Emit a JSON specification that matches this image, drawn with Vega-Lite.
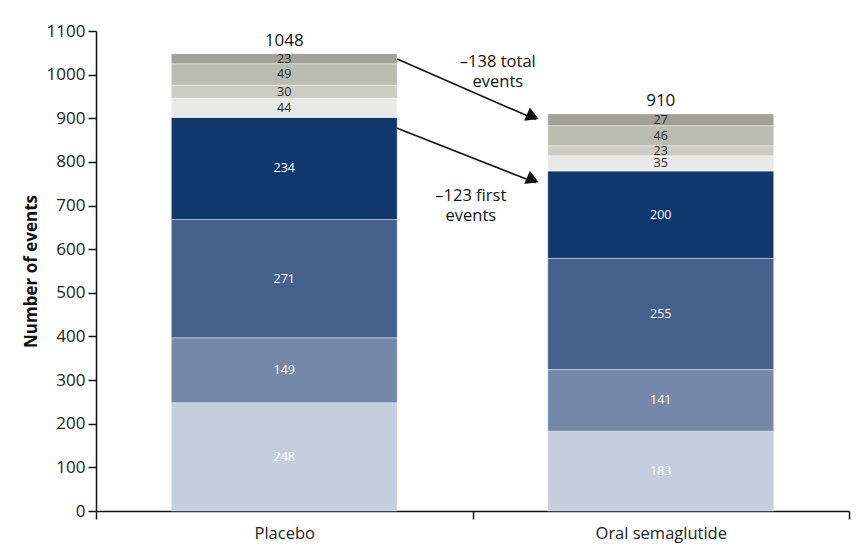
{
  "$schema": "https://vega.github.io/schema/vega-lite/v6.json",
  "width": 753,
  "height": 480,
  "autosize": "none",
  "padding": {"left": 96, "top": 31, "right": 11, "bottom": 39},
  "config": {
    "font": "Open Sans",
    "view": {"stroke": null},
    "axis": {
      "domainColor": "#111",
      "tickColor": "#111",
      "labelColor": "#222",
      "grid": false
    }
  },
  "datasets": {
    "events": [
      {"group": "Placebo", "segment": "s1", "value": 248},
      {"group": "Placebo", "segment": "s2", "value": 149},
      {"group": "Placebo", "segment": "s3", "value": 271},
      {"group": "Placebo", "segment": "s4", "value": 234},
      {"group": "Placebo", "segment": "s5", "value": 44},
      {"group": "Placebo", "segment": "s6", "value": 30},
      {"group": "Placebo", "segment": "s7", "value": 49},
      {"group": "Placebo", "segment": "s8", "value": 23},
      {"group": "Oral semaglutide", "segment": "s1", "value": 183},
      {"group": "Oral semaglutide", "segment": "s2", "value": 141},
      {"group": "Oral semaglutide", "segment": "s3", "value": 255},
      {"group": "Oral semaglutide", "segment": "s4", "value": 200},
      {"group": "Oral semaglutide", "segment": "s5", "value": 35},
      {"group": "Oral semaglutide", "segment": "s6", "value": 23},
      {"group": "Oral semaglutide", "segment": "s7", "value": 46},
      {"group": "Oral semaglutide", "segment": "s8", "value": 27}
    ],
    "arrows": [
      {"from": "Placebo", "to": "Oral semaglutide", "start": 1036, "end": 897},
      {"from": "Placebo", "to": "Oral semaglutide", "start": 877, "end": 752}
    ]
  },
  "layer": [
    {
      "data": {"name": "events"},
      "mark": {"type": "bar", "stroke": "#ffffff", "strokeWidth": 0.4, "width": {"band": 0.6}},
      "encoding": {
        "x": {
          "field": "group",
          "type": "nominal",
          "scale": {"domain": ["Placebo", "Oral semaglutide"], "paddingInner": 0, "paddingOuter": 0},
          "axis": {
            "title": null,
            "labelAngle": 0,
            "labelFontSize": 16.5,
            "labelPadding": 6,
            "tickBand": "extent",
            "tickSize": 8,
            "domainWidth": 1.5,
            "tickWidth": 1.5
          }
        },
        "y": {
          "aggregate": "sum",
          "field": "value",
          "type": "quantitative",
          "scale": {"domain": [0, 1100], "nice": false},
          "axis": {
            "title": "Number of events",
            "titleFontSize": 17,
            "titleFontWeight": "bold",
            "titleColor": "#111",
            "titlePadding": 6,
            "values": [0, 100, 200, 300, 400, 500, 600, 700, 800, 900, 1000, 1100],
            "format": "d",
            "labelFontSize": 17,
            "labelPadding": 3,
            "tickSize": 8,
            "domainWidth": 1.5,
            "tickWidth": 1.5
          }
        },
        "color": {
          "field": "segment",
          "type": "nominal",
          "scale": {
            "domain": ["s1", "s2", "s3", "s4", "s5", "s6", "s7", "s8"],
            "range": ["#c5cedd", "#7489aa", "#46618c", "#10386c", "#e9e9e7", "#ccccc5", "#bbbcb4", "#a1a19a"]
          },
          "legend": null
        },
        "order": {"field": "segment", "sort": "ascending"}
      }
    },
    {
      "data": {"name": "events"},
      "transform": [
        {"stack": "value", "groupby": ["group"], "sort": [{"field": "segment", "order": "ascending"}], "as": ["y0", "y1"]},
        {"calculate": "(datum.y0 + datum.y1) / 2", "as": "mid"}
      ],
      "mark": {"type": "text", "fontSize": 12.5, "baseline": "middle"},
      "encoding": {
        "x": {"field": "group", "type": "nominal"},
        "y": {"field": "mid", "type": "quantitative"},
        "text": {"field": "value", "type": "quantitative"},
        "color": {
          "condition": {"test": "indexof(['s1','s2','s3','s4'], datum.segment) >= 0", "value": "#ffffff"},
          "value": "#2a2a2a"
        }
      }
    },
    {
      "data": {"name": "events"},
      "transform": [
        {"aggregate": [{"op": "sum", "field": "value", "as": "total"}], "groupby": ["group"]}
      ],
      "mark": {"type": "text", "fontSize": 17, "baseline": "alphabetic", "dy": -8, "color": "#111"},
      "encoding": {
        "x": {"field": "group", "type": "nominal"},
        "y": {"field": "total", "type": "quantitative"},
        "text": {"field": "total", "type": "quantitative"}
      }
    },
    {
      "data": {"name": "arrows"},
      "mark": {"type": "rule", "color": "#111", "strokeWidth": 1.6, "x2Offset": -12},
      "encoding": {
        "x": {"field": "from", "type": "nominal", "bandPosition": 0.8},
        "x2": {"field": "to", "bandPosition": 0.2},
        "y": {"field": "start", "type": "quantitative"},
        "y2": {"field": "end"}
      }
    },
    {
      "data": {"name": "arrows"},
      "mark": {"type": "point", "shape": "triangle-right", "angle": 23, "size": 210, "filled": true, "opacity": 1, "color": "#111", "xOffset": -15, "yOffset": -3},
      "encoding": {
        "x": {"field": "to", "type": "nominal", "bandPosition": 0.2},
        "y": {"field": "end", "type": "quantitative"}
      }
    },
    {
      "data": {"values": [{"group": "Oral semaglutide", "y": 1029, "note": "–138 total\nevents"}]},
      "mark": {"type": "text", "fontSize": 16.5, "lineBreak": "\n", "lineHeight": 20, "baseline": "middle", "xOffset": -50, "color": "#111"},
      "encoding": {
        "x": {"field": "group", "type": "nominal", "bandPosition": 0.2},
        "y": {"field": "y", "type": "quantitative"},
        "text": {"field": "note"}
      }
    },
    {
      "data": {"values": [{"group": "Oral semaglutide", "y": 722, "note": "–123 first\nevents"}]},
      "mark": {"type": "text", "fontSize": 16.5, "lineBreak": "\n", "lineHeight": 20, "baseline": "middle", "xOffset": -77, "color": "#111"},
      "encoding": {
        "x": {"field": "group", "type": "nominal", "bandPosition": 0.2},
        "y": {"field": "y", "type": "quantitative"},
        "text": {"field": "note"}
      }
    }
  ]
}
